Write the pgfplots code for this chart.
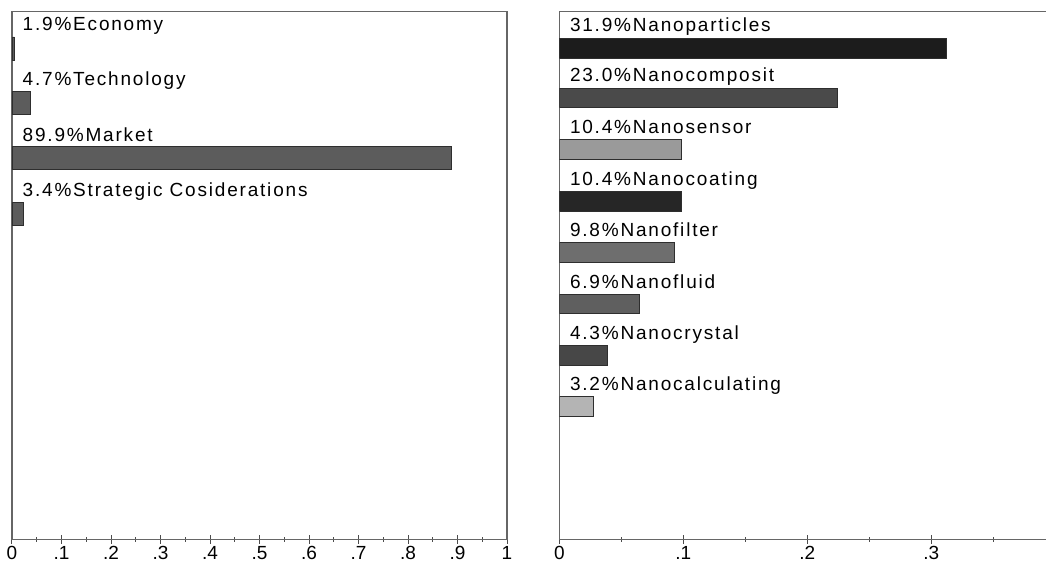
\documentclass[border=0pt]{standalone}
\usepackage{fontspec}
\setmainfont{Liberation Sans}[LetterSpace=9.5]
\usepackage{pgfplots}
\pgfplotsset{compat=1.18}

\definecolor{barL}{HTML}{5C5C5C}
\definecolor{edge}{HTML}{2E2E2E}
\definecolor{cA}{HTML}{1C1C1C}
\definecolor{cB}{HTML}{4A4A4A}
\definecolor{cC}{HTML}{9A9A9A}
\definecolor{cD}{HTML}{262626}
\definecolor{cE}{HTML}{6E6E6E}
\definecolor{cF}{HTML}{5F5F5F}
\definecolor{cG}{HTML}{474747}
\definecolor{cH}{HTML}{B4B4B4}

\tikzset{lab/.style={anchor=base west, xshift=10.5bp, inner sep=0pt}}

\pgfplotsset{
  panel/.style={
    scale only axis,
    anchor=south west,
    y dir=reverse,
    ymin=11.7, ymax=539.3,
    height=527.6bp,
    ytick=\empty,
    axis line style={draw=black!60, line width=1.2bp},
    tick align=center,
    major tick length=9bp,
    minor tick length=5bp,
    tick style={black!70, line width=1bp},
    xtick pos=bottom,
    /pgf/number format/assume math mode=true,
    xticklabel style={font=\addfontfeature{LetterSpace=0}, inner sep=0pt, anchor=north, yshift=-2.7bp},
  },
}

\begin{document}
\fontsize{19bp}{22bp}\selectfont
\begin{tikzpicture}
\path[use as bounding box] (0,0) rectangle (1046bp,563bp);

% left panel
\begin{axis}[panel,
  at={(12bp,23.7bp)},
  width=495bp,
  xmin=0, xmax=1,
  xtick={0,0.1,0.2,0.3,0.4,0.5,0.6,0.7,0.8,0.9,1},
  xticklabels={0,.1,.2,.3,.4,.5,.6,.7,.8,.9,1},
  minor xtick={0.05,0.15,0.25,0.35,0.45,0.55,0.65,0.75,0.85,0.95},
]
\addplot[xbar, bar shift=0pt, bar width=23, fill=barL, draw=edge]
  coordinates {(0.005,48.5) (0.036,103) (0.887,158) (0.022,213.5)};
\node[lab] at (axis cs:0,31) {1.9\%Economy};
\node[lab] at (axis cs:0,85.5) {4.7\%Technology};
\node[lab] at (axis cs:0,141) {89.9\%Market};
\node[lab] at (axis cs:0,196) {3.4\%Strategic Cosiderations};
\end{axis}

% right panel
\begin{axis}[panel,
  at={(559.3bp,23.7bp)},
  width=490bp,
  xmin=0, xmax=0.3952,
  xtick={0,0.1,0.2,0.3},
  xticklabels={0,.1,.2,.3},
  minor xtick={0.05,0.15,0.25,0.35},
]
\addplot[xbar, bar shift=0pt, bar width=19.5, fill=cA, draw=edge] coordinates {(0.312,48)};
\addplot[xbar, bar shift=0pt, bar width=19.5, fill=cB, draw=edge] coordinates {(0.224,97.5)};
\addplot[xbar, bar shift=0pt, bar width=19.5, fill=cC, draw=edge] coordinates {(0.098,149)};
\addplot[xbar, bar shift=0pt, bar width=19.5, fill=cD, draw=edge] coordinates {(0.098,201)};
\addplot[xbar, bar shift=0pt, bar width=19.5, fill=cE, draw=edge] coordinates {(0.0925,252)};
\addplot[xbar, bar shift=0pt, bar width=19.5, fill=cF, draw=edge] coordinates {(0.0643,303.5)};
\addplot[xbar, bar shift=0pt, bar width=19.5, fill=cG, draw=edge] coordinates {(0.0385,355)};
\addplot[xbar, bar shift=0pt, bar width=19.5, fill=cH, draw=edge] coordinates {(0.027,406)};
\node[lab] at (axis cs:0,32) {31.9\%Nanoparticles};
\node[lab] at (axis cs:0,82) {23.0\%Nanocomposit};
\node[lab] at (axis cs:0,133.5) {10.4\%Nanosensor};
\node[lab] at (axis cs:0,185) {10.4\%Nanocoating};
\node[lab] at (axis cs:0,236.5) {9.8\%Nanofilter};
\node[lab] at (axis cs:0,288) {6.9\%Nanofluid};
\node[lab] at (axis cs:0,339) {4.3\%Nanocrystal};
\node[lab] at (axis cs:0,390.5) {3.2\%Nanocalculating};
\end{axis}
\end{tikzpicture}
\end{document}
